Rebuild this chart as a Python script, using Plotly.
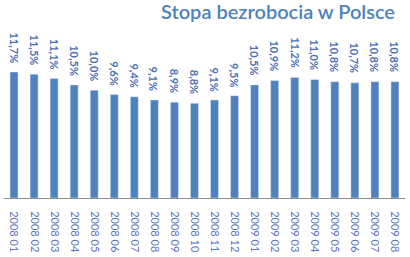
import plotly.graph_objects as go

categories = ["2008 01", "2008 02", "2008 03", "2008 04", "2008 05", "2008 06", "2008 07",
              "2008 08", "2008 09", "2008 10", "2008 11", "2008 12", "2009 01", "2009 02",
              "2009 03", "2009 04", "2009 05", "2009 06", "2009 07", "2009 08"]
values = [11.7, 11.5, 11.1, 10.5, 10.0, 9.6, 9.4, 9.1, 8.9, 8.8, 9.1, 9.5,
          10.5, 10.9, 11.2, 11.0, 10.8, 10.7, 10.8, 10.8]
labels = [f"{v:.1f}".replace(".", ",") + "%" for v in values]
title_text = "Stopa bezrobocia w Polsce"

BLUE = "#4F81BD"
FONT = "Lato"

fig = go.Figure()
fig.add_trace(go.Bar(x=categories, y=values, marker_color=BLUE, width=0.4,
                     hoverinfo="skip"))

for c, v, t in zip(categories, values, labels):
    fig.add_annotation(x=c, y=v, text=t, textangle=90, showarrow=False,
                       xanchor="center", yanchor="bottom", yshift=7,
                       font=dict(family=FONT, size=11, color="#4A6FB5", weight="bold"))

fig.update_layout(
    width=410, height=257,
    margin=dict(l=4, r=5, t=30, b=59),
    plot_bgcolor="white", paper_bgcolor="white",
    showlegend=False,
    title=dict(text=title_text, xref="container", yref="container",
               x=395 / 410, xanchor="right", y=1 - 5 / 257, yanchor="top",
               font=dict(family=FONT, size=20, color=BLUE, weight=600)),
    xaxis=dict(type="category", range=[-0.5, 19.5], showline=True, linecolor="#8C8C8C",
               linewidth=1, ticks="", tickangle=90, ticklabelstandoff=10,
               tickfont=dict(family=FONT, size=11, color="#5B72C0"), showgrid=False,
               fixedrange=True),
    yaxis=dict(range=[0, 15.6], visible=False, showgrid=False, zeroline=False,
               fixedrange=True),
)

fig.write_html("out.html", config={"displayModeBar": False})
